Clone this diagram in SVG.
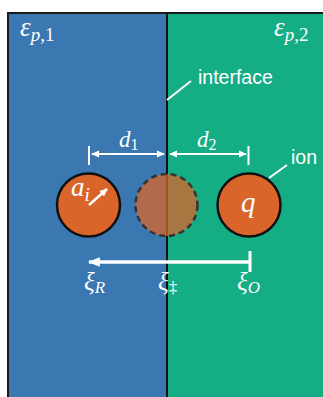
<svg xmlns="http://www.w3.org/2000/svg" width="323" height="397" viewBox="0 0 323 397">
<style>
.math{font-family:"Liberation Serif","DejaVu Serif",serif;font-style:italic;fill:#fff}
.up{font-style:normal}
.lbl{font-family:"Liberation Sans",Arial,sans-serif;fill:#fff;font-size:19.5px}
.wl{stroke:#fff;fill:none}
.ion{fill:#d9652b;stroke:#111;stroke-width:2.5}
</style>
<defs>
<marker id="ah" viewBox="0 0 10 10" refX="9" refY="5" markerWidth="8" markerHeight="8" markerUnits="userSpaceOnUse" orient="auto-start-reverse"><path d="M0,0.5 L10,5 L0,9.5 z" fill="#fff"/></marker>
<marker id="ahb" viewBox="0 0 10 10" refX="9" refY="5" markerWidth="12" markerHeight="12" markerUnits="userSpaceOnUse" orient="auto-start-reverse"><path d="M0,1 L10,5 L0,9 z" fill="#fff"/></marker>
</defs>
<rect width="323" height="397" fill="#fff"/>
<g id="region1">
<rect x="8" y="13" width="159" height="384" fill="#3b77b1"/>
<text class="math" x="20" y="36" font-size="27">ε<tspan font-size="19" dy="5">p</tspan><tspan class="up" font-size="19">,1</tspan></text>
</g>
<g id="region2">
<rect x="167" y="13" width="156" height="384" fill="#15ad84"/>
<text class="math" x="274" y="36" font-size="27">ε<tspan font-size="19" dy="5">p</tspan><tspan class="up" font-size="19">,2</tspan></text>
</g>
<path d="M8,397 V13 H323" fill="none" stroke="#1a1a1a" stroke-width="2"/>
<g id="interface">
<line x1="167" y1="13" x2="167" y2="397" stroke="#111" stroke-width="2"/>
<text class="lbl" x="198" y="84">interface</text>
</g>
<g id="ion-left">
<circle class="ion" cx="88.5" cy="205" r="31.5"/>
<text class="math" x="71" y="196" font-size="27">a<tspan font-size="19" dy="5">i</tspan></text>
</g>
<g id="ion-transition">
<circle cx="166.5" cy="205" r="31" fill="#d9652b" fill-opacity="0.75" stroke="#333" stroke-width="2.5" stroke-dasharray="6 4"/>
</g>
<g id="ion-right">
<circle class="ion" cx="249" cy="205" r="31.5"/>
<text class="math" x="241" y="212" font-size="29">q</text>
<text class="lbl" x="291" y="164">ion</text>
</g>
<g id="connectors">
<line class="wl" x1="167" y1="100" x2="191" y2="81" stroke-width="2"/>
<line class="wl" x1="269" y1="178" x2="287" y2="165" stroke-width="2"/>
<line class="wl" x1="89" y1="146" x2="89" y2="165" stroke-width="2"/>
<line class="wl" x1="248.5" y1="146" x2="248.5" y2="165" stroke-width="2"/>
<line class="wl" x1="92" y1="154" x2="164" y2="154" stroke-width="2" marker-start="url(#ah)" marker-end="url(#ah)"/>
<line class="wl" x1="170" y1="154" x2="246" y2="154" stroke-width="2" marker-start="url(#ah)" marker-end="url(#ah)"/>
<line class="wl" x1="89" y1="205" x2="107" y2="189" stroke-width="2.5" marker-end="url(#ah)"/>
<line class="wl" x1="250" y1="251" x2="250" y2="272" stroke-width="3"/>
<line class="wl" x1="250" y1="262" x2="89" y2="262" stroke-width="3.5" marker-end="url(#ahb)"/>
</g>
<text class="math" x="119" y="147" font-size="23">d<tspan class="up" font-size="16" dy="3">1</tspan></text>
<text class="math" x="197" y="147" font-size="23">d<tspan class="up" font-size="16" dy="3">2</tspan></text>
<text class="math" x="84" y="290" font-size="25">ξ<tspan font-size="17" dy="3">R</tspan></text>
<text class="math" x="158" y="290" font-size="25">ξ<tspan class="up" font-size="17" dy="3">‡</tspan></text>
<text class="math" x="237" y="290" font-size="25">ξ<tspan font-size="17" dy="3">O</tspan></text>
</svg>
